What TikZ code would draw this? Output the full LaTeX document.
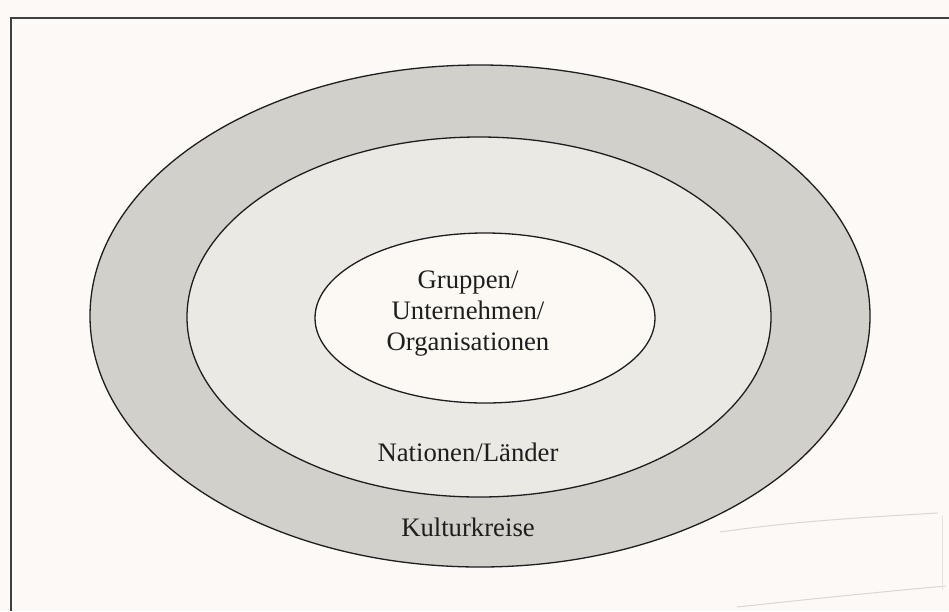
\documentclass[tikz,border=0pt]{standalone}
\usepackage{fontspec}
\setmainfont{Liberation Serif}
\definecolor{paper}{HTML}{FDF9F6}
\definecolor{ringouter}{HTML}{D2D0CB}
\definecolor{ringmid}{HTML}{EBE9E4}
\definecolor{core}{HTML}{FCF9F5}
\definecolor{ink}{HTML}{1E1E1E}
\definecolor{faint}{HTML}{DAD6D2}
\tikzset{
  ring/.style={draw=ink, line width=1.3pt},
  label/.style={text=ink, font=\fontsize{26.7}{31}\selectfont, align=center, inner sep=0pt},
  frameline/.style={draw=ink!85, line width=1.5pt},
  paperedge/.style={draw=faint, line width=1pt}
}
\begin{document}
\begin{tikzpicture}[x=1pt, y=-1pt]
  \useasboundingbox (0,0) rectangle (949,611);
  \fill[paper] (0,0) rectangle (949,611);
  % frame (open at right and bottom)
  \coordinate (fbl) at (11,611);
  \coordinate (ftl) at (11,18);
  \coordinate (ftr) at (949,18);
  \draw[frameline] (fbl) -- (ftl) -- (ftr);
  % faint pasted paper strip
  \draw[paperedge] (720,532) .. controls (790,522) and (850,518) .. (938,513);
  \draw[paperedge] (737,607) .. controls (820,598) and (880,592) .. (946,586);
  \draw[paperedge, draw=faint!70] (942,515) -- (942,590);
  % ellipses
  \filldraw[ring, fill=ringouter] (480,316) ellipse [x radius=390, y radius=251];
  \filldraw[ring, fill=ringmid] (479,317) ellipse [x radius=292, y radius=180];
  \filldraw[ring, fill=core] (485,318) ellipse [x radius=170, y radius=85];
  % labels
  \node[label] (inner) at (468,314) {Gruppen/\\Unternehmen/\\Organisationen};
  \node[label] (mid) at (468,452) {Nationen/Länder};
  \node[label] (outer) at (468,527) {Kulturkreise};
\end{tikzpicture}
\end{document}
